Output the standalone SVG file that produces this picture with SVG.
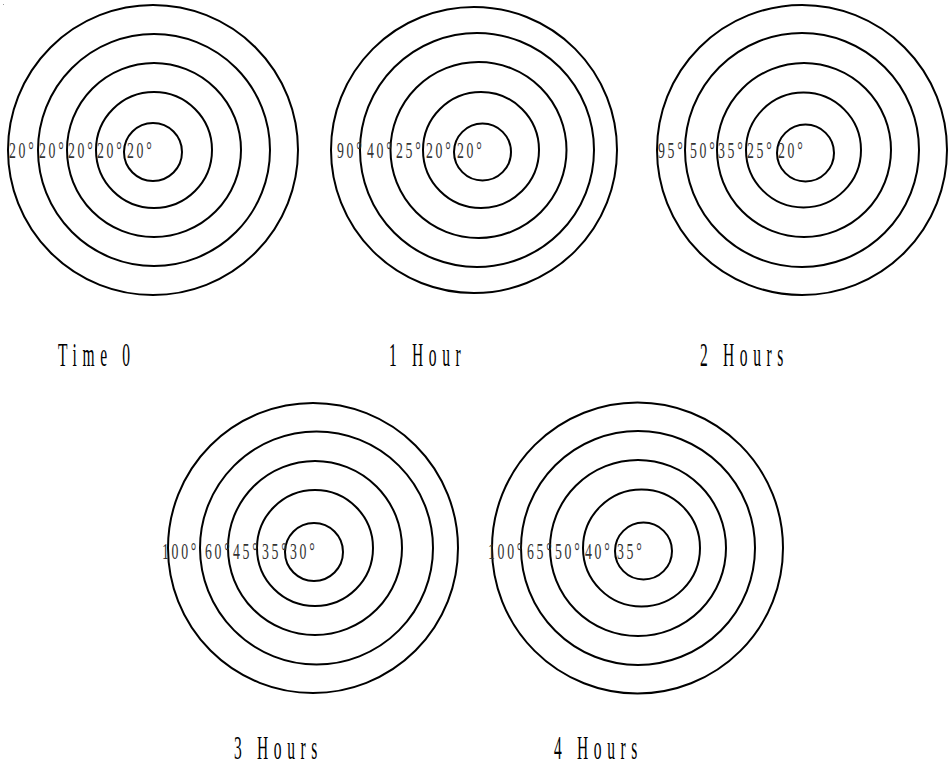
<svg xmlns="http://www.w3.org/2000/svg" width="948" height="765" viewBox="0 0 948 765">
<style>
.ring{fill:none;stroke:#000;stroke-width:2}
.lbl{font-family:"Liberation Serif","Times New Roman",serif;font-size:23px;fill:#333;letter-spacing:4.5px}
.cap{font-family:"Liberation Serif","Times New Roman",serif;font-size:33px;fill:#000;letter-spacing:12px}
</style>
<rect width="948" height="765" fill="#fff"/>
<rect x="3" y="4" width="1" height="1" fill="#999"/>
<g id="target-time0">
<circle class="ring" cx="153" cy="150" r="145"/>
<circle class="ring" cx="154" cy="150" r="116"/>
<circle class="ring" cx="154" cy="150" r="87"/>
<circle class="ring" cx="154" cy="150" r="58"/>
<circle class="ring" cx="153" cy="152" r="29"/>
<text class="lbl" transform="translate(9,158) scale(0.6,1)">20°</text>
<text class="lbl" transform="translate(39,158) scale(0.6,1)">20°</text>
<text class="lbl" transform="translate(68,158) scale(0.6,1)">20°</text>
<text class="lbl" transform="translate(97,158) scale(0.6,1)">20°</text>
<text class="lbl" transform="translate(127,158) scale(0.6,1)">20°</text>
<text class="cap" transform="translate(58,366) scale(0.47,1)">Time 0</text>
</g>
<g id="target-1hour">
<circle class="ring" cx="474" cy="150" r="143"/>
<circle class="ring" cx="477" cy="150" r="117"/>
<circle class="ring" cx="478.5" cy="150" r="88"/>
<circle class="ring" cx="481" cy="150" r="58"/>
<circle class="ring" cx="482.5" cy="152" r="28.5"/>
<text class="lbl" transform="translate(337,158) scale(0.6,1)">90°</text>
<text class="lbl" transform="translate(367,158) scale(0.6,1)">40°</text>
<text class="lbl" transform="translate(396,158) scale(0.6,1)">25°</text>
<text class="lbl" transform="translate(426,158) scale(0.6,1)">20°</text>
<text class="lbl" transform="translate(457,158) scale(0.6,1)">20°</text>
<text class="cap" transform="translate(389,366) scale(0.47,1)">1 Hour</text>
</g>
<g id="target-2hours">
<circle class="ring" cx="802" cy="150" r="145"/>
<circle class="ring" cx="802" cy="150" r="117"/>
<circle class="ring" cx="804" cy="150" r="87"/>
<circle class="ring" cx="803.5" cy="150" r="57.5"/>
<circle class="ring" cx="805.5" cy="153" r="28.5"/>
<text class="lbl" transform="translate(658,158) scale(0.6,1)">95°</text>
<text class="lbl" transform="translate(690,158) scale(0.6,1)">50°</text>
<text class="lbl" transform="translate(718,158) scale(0.6,1)">35°</text>
<text class="lbl" transform="translate(747,158) scale(0.6,1)">25°</text>
<text class="lbl" transform="translate(778,158) scale(0.6,1)">20°</text>
<text class="cap" transform="translate(700,366) scale(0.47,1)">2 Hours</text>
</g>
<g id="target-3hours">
<circle class="ring" cx="313" cy="548" r="145"/>
<circle class="ring" cx="316.5" cy="548" r="116.5"/>
<circle class="ring" cx="315" cy="548" r="87"/>
<circle class="ring" cx="315" cy="548" r="58"/>
<circle class="ring" cx="314" cy="552" r="29"/>
<text class="lbl" transform="translate(162,559) scale(0.6,1)">100°</text>
<text class="lbl" transform="translate(205,559) scale(0.6,1)">60°</text>
<text class="lbl" transform="translate(233,559) scale(0.6,1)">45°</text>
<text class="lbl" transform="translate(262,559) scale(0.6,1)">35°</text>
<text class="lbl" transform="translate(290,559) scale(0.6,1)">30°</text>
<text class="cap" transform="translate(234,759) scale(0.47,1)">3 Hours</text>
</g>
<g id="target-4hours">
<circle class="ring" cx="637.5" cy="548" r="145.5"/>
<circle class="ring" cx="638" cy="548" r="117"/>
<circle class="ring" cx="638" cy="548" r="88"/>
<circle class="ring" cx="641.5" cy="548" r="58.5"/>
<circle class="ring" cx="643.5" cy="551" r="28.5"/>
<text class="lbl" transform="translate(488,559) scale(0.6,1)">100°</text>
<text class="lbl" transform="translate(527,559) scale(0.6,1)">65°</text>
<text class="lbl" transform="translate(555,559) scale(0.6,1)">50°</text>
<text class="lbl" transform="translate(585,559) scale(0.6,1)">40°</text>
<text class="lbl" transform="translate(617,559) scale(0.6,1)">35°</text>
<text class="cap" transform="translate(554,759) scale(0.47,1)">4 Hours</text>
</g>
<g id="connectors"></g>
</svg>
